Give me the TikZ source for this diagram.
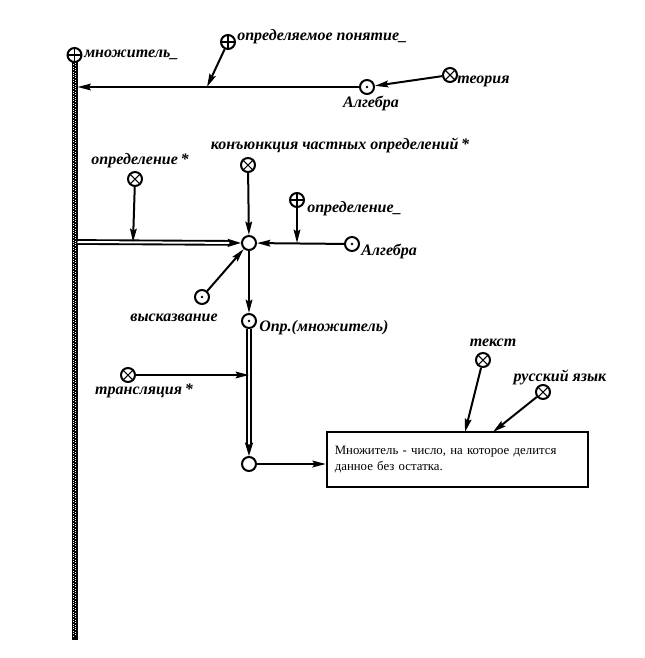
\documentclass[tikz,border=0pt]{standalone}
\usepackage{fontspec}
\setmainfont{Liberation Serif}
\usetikzlibrary{arrows.meta,positioning}
\tikzset{
  vert/.style={circle, draw, line width=1.5pt, minimum size=10.5pt, inner sep=0pt, fill=white},
  plusv/.style={vert, path picture={\draw[black, line width=.8pt]
      (path picture bounding box.north)--(path picture bounding box.south)
      (path picture bounding box.west)--(path picture bounding box.east);}},
  crossv/.style={vert, path picture={\draw[black, line width=.8pt]
      (path picture bounding box.north west)--(path picture bounding box.south east)
      (path picture bounding box.north east)--(path picture bounding box.south west);}},
  dotv/.style={vert, path picture={\fill[black] (path picture bounding box.center) circle(1pt);}},
  lbl/.style={font=\fontsize{12}{14}\selectfont\bfseries\itshape, inner sep=0pt},
  arc/.style={line width=1.5pt, -{Stealth[length=10pt,width=5pt,inset=1.5pt]}},
  darc/.style={double, double distance=1.5pt, line width=1.4pt, -{Stealth[length=10pt,width=6pt,inset=1.5pt]}},
}
\begin{document}
\begin{tikzpicture}[x=.75pt,y=-.75pt]
  \useasboundingbox (0,0) rectangle (645,658);
  % left bar
  \fill (71.5,60) rectangle (77.5,640);
  \draw[white, line width=.6pt, dash pattern=on .6pt off 1.2pt] (73.3,62) -- (73.3,636) (75.7,63) -- (75.7,636);
  % vertices
  \node[plusv] (mnozh) at (74.5,55) {};
  \node[plusv] (pdef) at (228,42) {};
  \node[dotv] (alg1) at (367,87) {};
  \node[crossv] (teor) at (450,75) {};
  \node[crossv] (opr1) at (135,179) {};
  \node[crossv] (konj) at (248,165) {};
  \node[vert] (cen) at (249,243) {};
  \node[plusv] (opr2) at (297,200) {};
  \node[dotv] (alg2) at (352,244) {};
  \node[dotv] (vysk) at (202,297) {};
  \node[dotv] (oprm) at (249,321) {};
  \node[crossv] (trans) at (128,375) {};
  \node[vert] (bot) at (249,464) {};
  \node[crossv] (tekst) at (483,360) {};
  \node[crossv] (russ) at (543,392) {};
  \node[draw, line width=1.5pt, minimum width=196pt, minimum height=41pt, text width=184pt,
        inner xsep=6pt, align=left, font=\fontsize{9.6}{11.4}\selectfont] (box) at (457.5,459.5)
        {Множитель - число, на которое делится данное без остатка.};
  % labels
  \node[lbl, anchor=west] (mnozhL) at (84,55) {множитель\_};
  \node[lbl, anchor=west] (pdefL) at (237,37) {определяемое понятие\_};
  \node[lbl] (alg1L) at (371,103) {Алгебра};
  \node[lbl, anchor=west] (teorL) at (457,81) {теория};
  \node[lbl] (opr1L) at (140,161) {определение\,*};
  \node[lbl] (konjL) at (340,145) {конъюнкция частных определений\,*};
  \node[lbl, anchor=west] (opr2L) at (307,209) {определение\_};
  \node[lbl, anchor=west] (alg2L) at (361,251) {Алгебра};
  \node[lbl] (vyskL) at (174,318) {высказвание};
  \node[lbl, anchor=west] (oprmL) at (259,328) {Опр.(множитель)};
  \node[lbl] (transL) at (144,391) {трансляция\,*};
  \node[lbl] (tekstL) at (493,343) {текст};
  \node[lbl] (russL) at (560,377) {русский язык};
  % points on connectors
  \coordinate (barA) at (77.5,87);
  \coordinate (hA) at (207,87);
  \coordinate (barB) at (77.5,242);
  \coordinate (dA) at (133,242);
  \coordinate (hB) at (297,243);
  \coordinate (dB) at (249,375);
  \coordinate (boxA) at (465,432);
  \coordinate (boxB) at (493,432);
  % connectors
  \draw[arc] (alg1) -- (barA);
  \draw[arc] (pdef) -- (hA);
  \draw[arc] (teor) -- (alg1);
  \draw[darc] (barB) -- (cen);
  \draw[arc] (opr1) -- (dA);
  \draw[arc] (konj) -- (cen);
  \draw[arc] (alg2) -- (cen);
  \draw[arc] (opr2) -- (hB);
  \draw[arc] (vysk) -- (cen);
  \draw[arc] (cen) -- (oprm);
  \draw[darc] (oprm) -- (bot);
  \draw[arc] (trans) -- (dB);
  \draw[arc] (bot) -- (box.west |- bot);
  \draw[arc] (tekst) -- (boxA);
  \draw[arc] (russ) -- (boxB);
\end{tikzpicture}
\end{document}
